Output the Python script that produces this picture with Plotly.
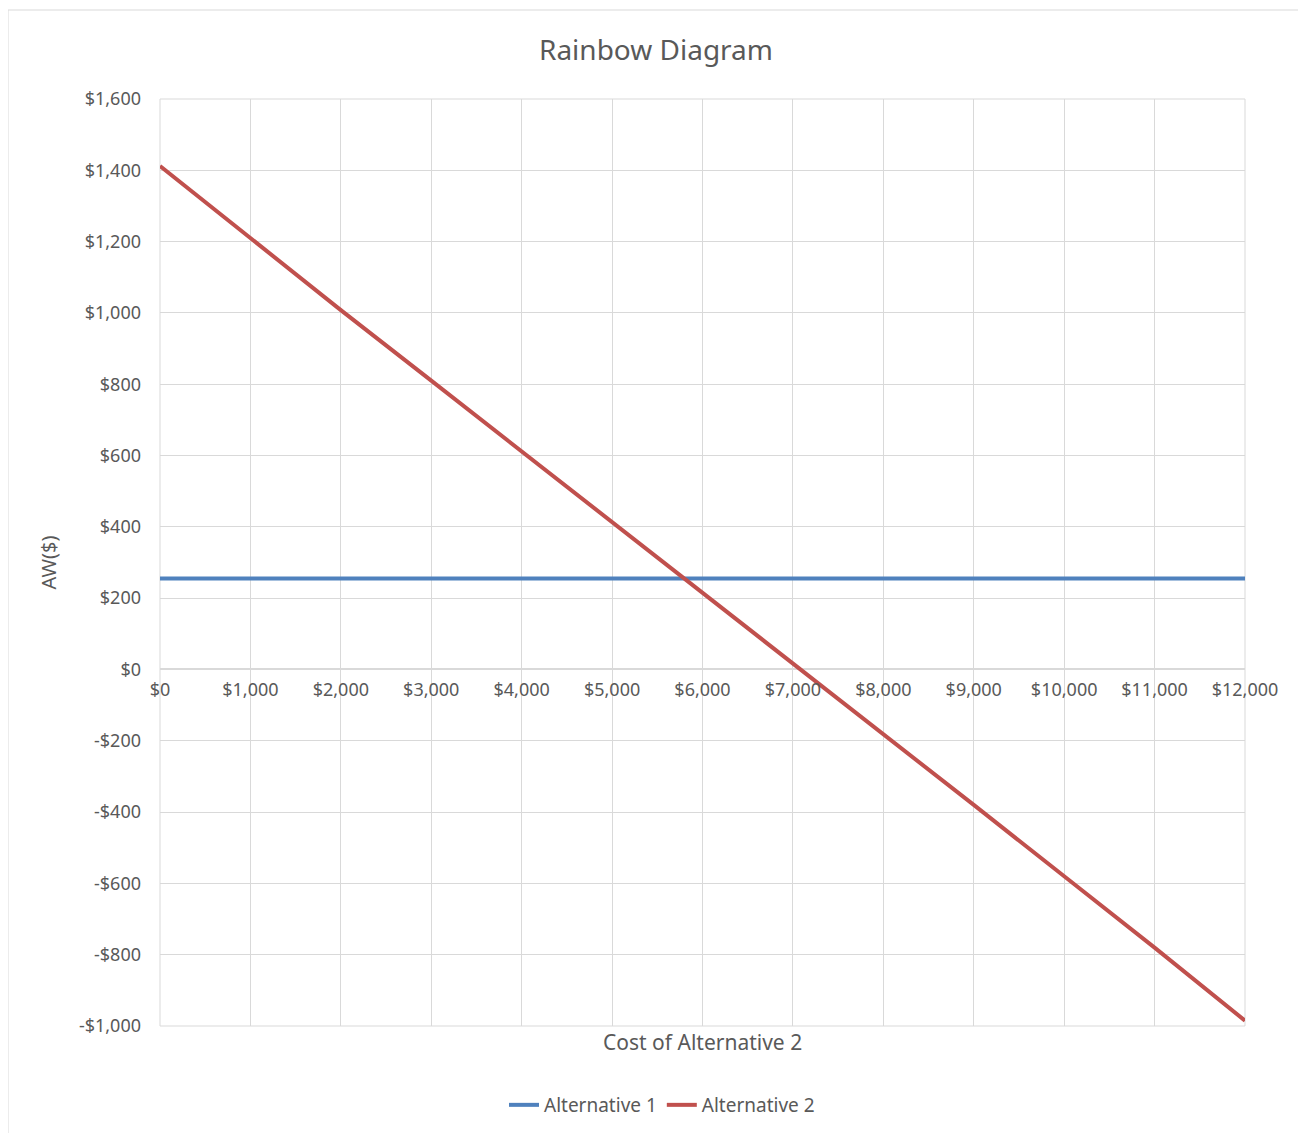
import plotly.graph_objects as go

# Data
cost = [0, 1000, 2000, 3000, 4000, 5000, 6000, 7000, 8000, 9000, 10000, 11000, 12000]
alt1 = [255, 255, 255, 255, 255, 255, 255, 255, 255, 255, 255, 255, 255]
alt2 = [1412, 1210, 1008, 810, 612, 412, 214, 16, -180, -380, -580, -780, -985]

x_tickvals = [0, 1000, 2000, 3000, 4000, 5000, 6000, 7000, 8000, 9000, 10000, 11000, 12000]
x_ticktext = ["$0", "$1,000", "$2,000", "$3,000", "$4,000", "$5,000", "$6,000",
              "$7,000", "$8,000", "$9,000", "$10,000", "$11,000", "$12,000"]
y_tickvals = [-1000, -800, -600, -400, -200, 0, 200, 400, 600, 800, 1000, 1200, 1400, 1600]
y_ticktext = ["-$1,000", "-$800", "-$600", "-$400", "-$200", "$0", "$200", "$400",
              "$600", "$800", "$1,000", "$1,200", "$1,400", "$1,600"]

FONT = "Noto Sans"
GRAY = "#595959"
GRID = "#d9d9d9"

fig = go.Figure()
fig.add_trace(go.Scatter(x=cost, y=alt1, mode="lines", name="Alternative 1",
                         line=dict(color="#4f81bd", width=4)))
fig.add_trace(go.Scatter(x=cost, y=alt2, mode="lines", name="Alternative 2",
                         line=dict(color="#c0504d", width=4)))

OFF = 8  # body margin of the page
L, R, T, B = 160 - OFF, 1245 - OFF, 99 - OFF, 1026 - OFF
W, H = 1298, 1130
pw, ph = R - L, B - T

def px_x(p):
    return (p - OFF - L) / pw

def px_y(p):
    return (B - (p - OFF)) / ph

y0_paper = 1000 / 2600

fig.update_layout(
    width=W, height=H,
    margin=dict(l=L, r=W - R, t=T, b=H - B, pad=0),
    paper_bgcolor="white", plot_bgcolor="white",
    font=dict(family=FONT, color=GRAY, size=16),
    title=dict(text="Rainbow Diagram", x=(656 - OFF) / W, xref="container", xanchor="center",
               y=1 - (50 - OFF) / H, yanchor="middle",
               font=dict(size=28, color=GRAY, family=FONT)),
    showlegend=True,
    legend=dict(orientation="h", x=px_x(662), xanchor="center", y=px_y(1105), yanchor="middle",
                font=dict(size=19, color=GRAY), tracegroupgap=0,
                bgcolor="rgba(0,0,0,0)"),
    xaxis=dict(range=[0, 12000], tickvals=x_tickvals, ticktext=x_ticktext,
               showgrid=True, gridcolor=GRID, gridwidth=1,
               showline=False, zeroline=False, ticks="",
               anchor="free", position=y0_paper,
               tickfont=dict(size=18, color=GRAY), ticklabelstandoff=8),
    yaxis=dict(range=[-1000, 1600], tickvals=y_tickvals, ticktext=y_ticktext,
               showgrid=True, gridcolor=GRID, gridwidth=1,
               zeroline=True, zerolinecolor=GRID, zerolinewidth=2,
               showline=False, ticks="",
               tickfont=dict(size=18, color=GRAY), ticklabelstandoff=18,
               title=dict(text="AW($)", font=dict(size=20, color=GRAY), standoff=16)),
    shapes=[
        dict(type="rect", xref="paper", yref="paper", x0=0, x1=1, y0=0, y1=1,
             line=dict(color=GRID, width=1), layer="below"),
        dict(type="rect", xref="paper", yref="paper",
             x0=px_x(8), x1=px_x(1305), y0=px_y(1136), y1=px_y(10),
             line=dict(color=GRID, width=1), layer="below"),
    ],
    annotations=[
        dict(text="Cost of Alternative 2", xref="paper", yref="paper",
             x=0.5, y=px_y(1042), xanchor="center", yanchor="middle",
             showarrow=False, font=dict(size=21, color=GRAY, family=FONT)),
    ],
)

fig.write_html("out.html", config={"responsive": False})
